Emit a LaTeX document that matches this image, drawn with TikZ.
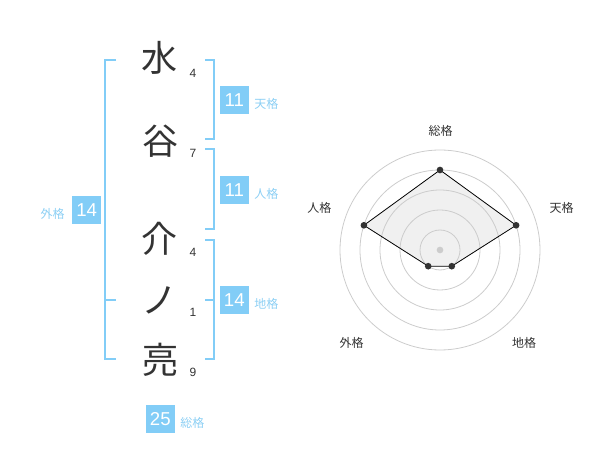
\documentclass[tikz,border=0pt]{standalone}
\usepackage{fontspec}
\setmainfont{Liberation Sans}
\newfontfamily\cjk{Noto Sans CJK JP}
\definecolor{bl}{HTML}{82CDF7}
\definecolor{bltext}{HTML}{8CCFF4}
\definecolor{ink}{HTML}{333333}
\definecolor{ring}{HTML}{CCCCCC}
\definecolor{polyfill}{HTML}{F0F0F0}
\begin{document}
\begin{tikzpicture}[x=0.75pt,y=-0.75pt,
  bigchar/.style={font=\cjk\fontsize{27}{27}\selectfont, text=ink, inner sep=0pt},
  strokenum/.style={font=\fontsize{9}{9}\selectfont, text=ink, inner sep=0pt},
  valbox/.style={fill=bl, text=white, font=\fontsize{14}{14}\selectfont, minimum width=21.5pt, minimum height=21.2pt, inner sep=0pt},
  lab/.style={font=\cjk\fontsize{9}{9}\selectfont, text=bltext, inner sep=0pt},
  brk/.style={draw=bl, line width=1.5pt},
  radlab/.style={font=\cjk\fontsize{9}{9}\selectfont, text=ink, inner sep=0pt},
  ringc/.style={draw=ring, line width=0.6pt},
  dot/.style={circle, fill=ink, inner sep=0pt, minimum size=5pt}]
\useasboundingbox (0,0) rectangle (600,470);

% characters
\node[bigchar] (c1) at (159,58) {水};
\node[bigchar] (c2) at (160,141) {谷};
\node[bigchar] (c3) at (159.3,239) {介};
\node[bigchar] (c4) at (159.5,300) {ノ};
\node[bigchar] (c5) at (160,360) {亮};
\node[strokenum] (n1) at (193,73.7) {4};
\node[strokenum] (n2) at (193,153.3) {7};
\node[strokenum] (n3) at (193,252.7) {4};
\node[strokenum] (n4) at (193,312.7) {1};
\node[strokenum] (n5) at (193,372.7) {9};

% brackets
\draw[brk] (116,60) -- (105,60) -- (105,359) -- (116,359);
\draw[brk] (105,300) -- (116,300);
\draw[brk] (205,60) -- (214,60) -- (214,139.3) -- (205,139.3);
\draw[brk] (205,149.3) -- (214,149.3) -- (214,229.3) -- (205,229.3);
\draw[brk] (205,240) -- (214,240) -- (214,359) -- (205,359);
\draw[brk] (205,300) -- (214,300);

% value boxes
\node[valbox] (ten) at (234.3,100.2) {11};
\node[lab, anchor=west] (tenl) at (254,104.3) {天格};
\node[valbox] (jin) at (234.3,190.2) {11};
\node[lab, anchor=west] (jinl) at (254,194.3) {人格};
\node[valbox] (chi) at (234.3,300.2) {14};
\node[lab, anchor=west] (chil) at (254,304) {地格};
\node[valbox] (gai) at (86.7,210) {14};
\node[lab, anchor=east] (gail) at (65,213.8) {外格};
\node[valbox] (sou) at (160.3,419.2) {25};
\node[lab, anchor=west] (soul) at (180,422.5) {総格};

% radar chart
\coordinate (O) at (440,250);
\coordinate (pS) at (440,170);
\coordinate (pT) at (516.1,225.3);
\coordinate (pC) at (451.8,266.2);
\coordinate (pG) at (428.2,266.2);
\coordinate (pJ) at (363.9,225.3);
\fill[polyfill] (pS) -- (pT) -- (pC) -- (pG) -- (pJ) -- cycle;
\foreach \r in {20,40,60,80,100} \draw[ringc] (O) circle[radius=\r*0.75pt];
\draw[black, line width=0.6pt] (pS) -- (pT) -- (pC) -- (pG) -- (pJ) -- cycle;
\node[circle, fill=ring, inner sep=0pt, minimum size=5pt] (ctr) at (O) {};
\foreach \p in {pS,pT,pC,pG,pJ} \node[dot] at (\p) {};
\node[radlab] (rS) at (440.7,130.7) {総格};
\node[radlab] (rT) at (561.7,208.3) {天格};
\node[radlab] (rJ) at (319.3,208.3) {人格};
\node[radlab] (rG) at (351.7,342.7) {外格};
\node[radlab] (rC) at (524,342.7) {地格};
\end{tikzpicture}
\end{document}
